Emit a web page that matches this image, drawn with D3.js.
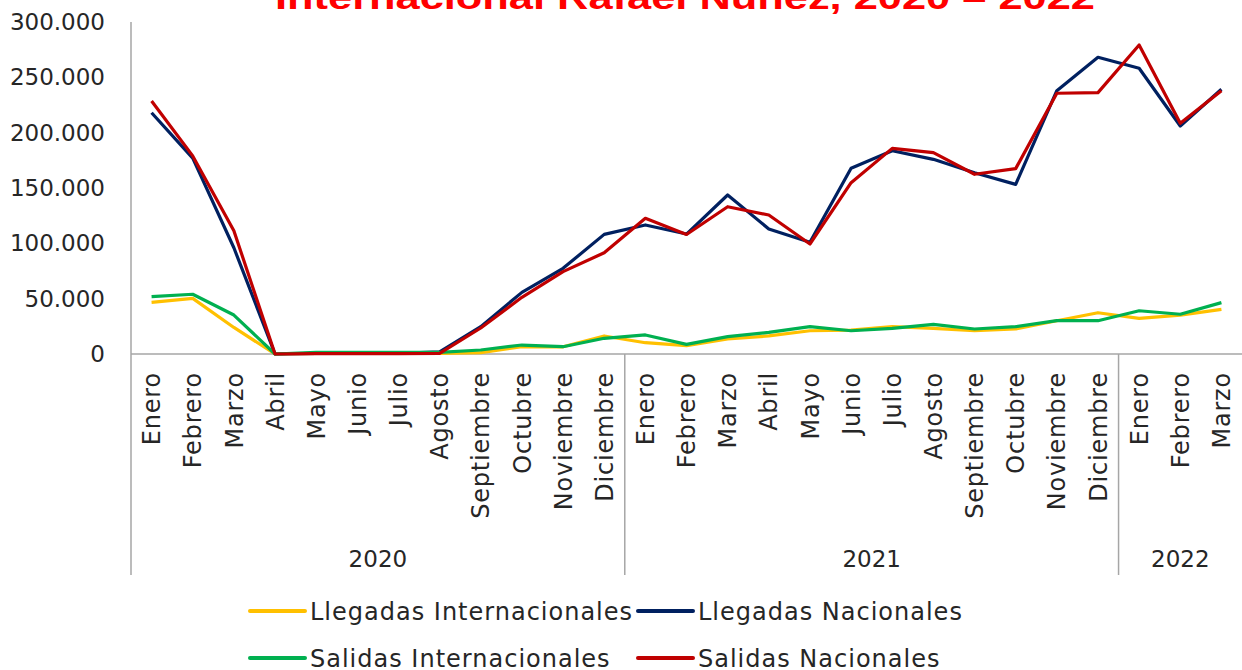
<!DOCTYPE html>
<html>
<head>
<meta charset="utf-8">
<script src="https://cdn.jsdelivr.net/npm/d3@7"></script>
<style>
  body { margin: 0; background: #fff; }
  svg { display: block; }
</style>
</head>
<body>
<div id="chart-area"></div>
<script>
var months = ["Enero", "Febrero", "Marzo", "Abril", "Mayo", "Junio", "Julio", "Agosto", "Septiembre", "Octubre", "Noviembre", "Diciembre",
  "Enero", "Febrero", "Marzo", "Abril", "Mayo", "Junio", "Julio", "Agosto", "Septiembre", "Octubre", "Noviembre", "Diciembre",
  "Enero", "Febrero", "Marzo"];
var yearLabels = ["2020", "2021", "2022"];
var yearCounts = [12, 12, 3];
var yTicks = [0, 50000, 100000, 150000, 200000, 250000, 300000];

var llegadasInt = [46700, 50300, 24000, 0, 500, 500, 500, 500, 1200, 6600, 6500, 16300, 10200, 7500, 13600, 16300, 21000, 21500, 24700, 23200, 21000, 22600, 30000, 37300, 32200, 35200, 40400];
var llegadasNac = [218000, 177000, 96000, 0, 500, 500, 500, 2000, 24700, 55700, 77400, 108100, 116600, 108400, 143700, 113000, 100900, 167800, 183700, 175900, 163800, 153300, 237900, 268100, 258200, 206000, 239200];
var salidasInt = [51800, 54000, 35200, 0, 1500, 1500, 1500, 1500, 3600, 8100, 6600, 14200, 17200, 8700, 15700, 19600, 24700, 21000, 23200, 26800, 22600, 24700, 30100, 30100, 39100, 35900, 46400];
var salidasNac = [228600, 179000, 111400, 0, 300, 300, 300, 500, 23500, 51200, 74400, 91500, 122600, 108000, 133100, 125600, 99400, 154800, 185800, 181900, 162400, 167500, 235600, 236200, 279200, 208500, 237900];

var seriesNames = ["Llegadas Internacionales", "Llegadas Nacionales", "Salidas Internacionales", "Salidas Nacionales"];
var seriesColors = ["#FFC000", "#002060", "#00B050", "#C00000"];
var seriesValues = [llegadasInt, llegadasNac, salidasInt, salidasNac];

var W = 1242, H = 670;
var plotLeft = 131, plotRight = 1242, plotTop = 22, plotBottom = 354, groupBottom = 575;
var font = "'DejaVu Sans', sans-serif";
var axisColor = "#A6A6A6";
var textColor = "#262626";

var svg = d3.select("#chart-area").append("svg")
  .attr("width", W)
  .attr("height", H);

var x = d3.scaleBand()
  .domain(d3.range(months.length))
  .range([plotLeft, plotRight]);

var y = d3.scaleLinear()
  .domain([0, 300000])
  .range([plotBottom, plotTop]);

// title (cut off at the top like the reference)
svg.append("text")
  .attr("x", 685)
  .attr("y", 9)
  .attr("text-anchor", "middle")
  .attr("font-family", "'Liberation Sans', Arial, sans-serif")
  .attr("font-weight", "bold")
  .attr("font-size", "34px")
  .attr("fill", "#FF0000")
  .attr("textLength", 820)
  .attr("lengthAdjust", "spacingAndGlyphs")
  .text("Internacional Rafael Núñez, 2020 – 2022");

// y axis labels
var leftAxis = d3.axisLeft(y)
  .tickValues(yTicks)
  .tickSize(0)
  .tickPadding(26)
  .tickFormat((d) => d3.format(",")(d).replace(/,/g, "."));

var yg = svg.append("g")
  .attr("transform", "translate(" + plotLeft + ",0)")
  .call(leftAxis);
yg.select(".domain").remove();
yg.selectAll("text")
  .attr("font-family", font)
  .attr("font-size", "23px")
  .attr("fill", textColor);

// axis lines
svg.append("line")
  .attr("x1", plotLeft).attr("x2", plotLeft)
  .attr("y1", plotTop).attr("y2", groupBottom)
  .attr("stroke", axisColor).attr("stroke-width", 1.5);

svg.append("line")
  .attr("x1", plotLeft).attr("x2", plotRight)
  .attr("y1", plotBottom).attr("y2", plotBottom)
  .attr("stroke", axisColor).attr("stroke-width", 1.5);

// month labels
svg.selectAll(".month")
  .data(months)
  .enter().append("text")
  .attr("class", "month")
  .attr("transform", (d, i) => "translate(" + (x(i) + x.bandwidth() / 2) + "," + 372 + ") rotate(-90)")
  .attr("dy", "0.36em")
  .attr("text-anchor", "end")
  .attr("font-family", font)
  .attr("font-size", "24px")
  .attr("letter-spacing", "0.8px")
  .attr("fill", textColor)
  .text((d) => d);

// year groups
var start = 0;
yearLabels.forEach((label, k) => {
  var end = start + yearCounts[k];
  var x0 = x(start);
  var x1 = end < months.length ? x(end) : plotRight;
  if (end < months.length) {
    svg.append("line")
      .attr("x1", x1).attr("x2", x1)
      .attr("y1", plotBottom).attr("y2", groupBottom)
      .attr("stroke", axisColor).attr("stroke-width", 1.5);
  }
  svg.append("text")
    .attr("x", (x0 + x1) / 2)
    .attr("y", 567)
    .attr("text-anchor", "middle")
    .attr("font-family", font)
    .attr("font-size", "23px")
    .attr("fill", textColor)
    .text(label);
  start = end;
});

// lines
var line = d3.line()
  .x((d, i) => x(i) + x.bandwidth() / 2)
  .y((d) => y(d));

svg.selectAll(".series")
  .data(seriesValues)
  .enter().append("path")
  .attr("class", "series")
  .attr("d", (d) => line(d))
  .attr("fill", "none")
  .attr("stroke", (d, i) => seriesColors[i])
  .attr("stroke-width", 3.2)
  .attr("stroke-linejoin", "round");

// legend
var legendX = [250, 638];
var legendY = [611, 658];
seriesNames.forEach((name, i) => {
  var lx = legendX[i % 2];
  var ly = legendY[Math.floor(i / 2)];
  svg.append("line")
    .attr("x1", lx).attr("x2", lx + 55)
    .attr("y1", ly).attr("y2", ly)
    .attr("stroke", seriesColors[i])
    .attr("stroke-width", 4)
    .attr("stroke-linecap", "round");
  svg.append("text")
    .attr("x", lx + 60)
    .attr("y", ly)
    .attr("dy", "0.36em")
    .attr("font-family", font)
    .attr("font-size", "24px")
    .attr("letter-spacing", "1px")
    .attr("fill", textColor)
    .text(name);
});
</script>
</body>
</html>
